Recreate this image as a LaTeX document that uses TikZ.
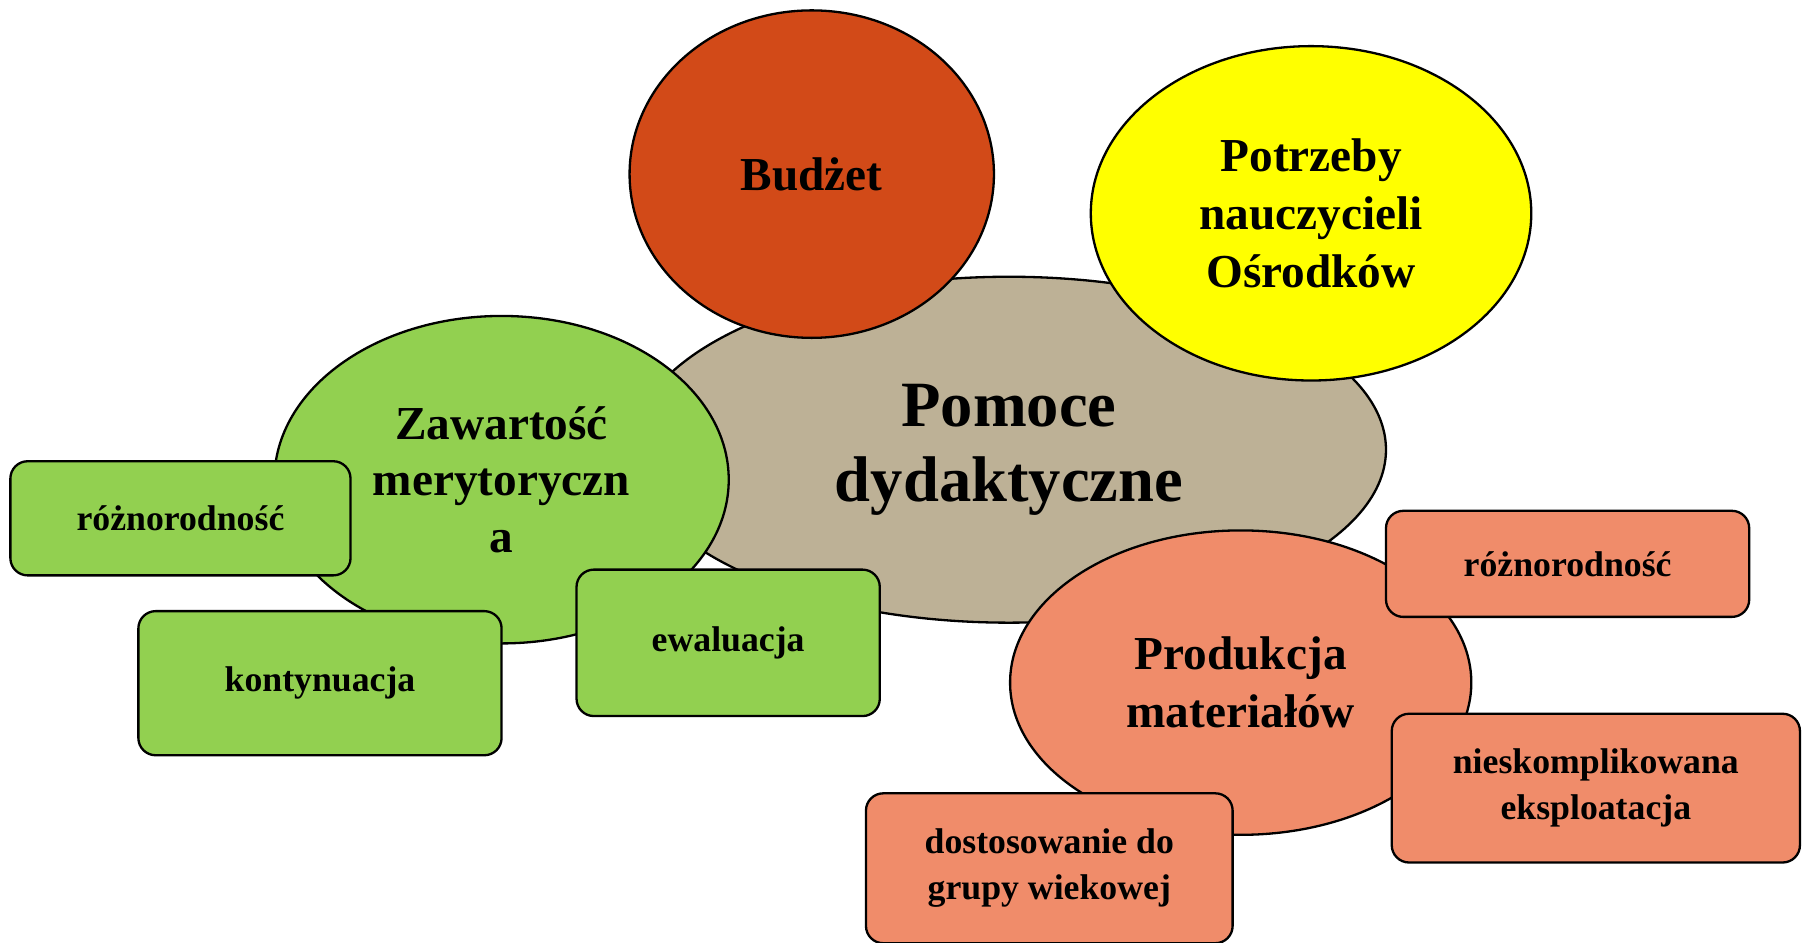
\documentclass[tikz,border=0pt]{standalone}
\usepackage{fontspec}
\setmainfont{Liberation Serif}
\usetikzlibrary{shapes.geometric}
\definecolor{tanc}{HTML}{BDB196}
\definecolor{rustc}{HTML}{D24A18}
\definecolor{yelc}{HTML}{FFFF00}
\definecolor{grnc}{HTML}{92D050}
\definecolor{salc}{HTML}{F08C6A}
\tikzset{
  bubble/.style={ellipse, draw=black, line width=2pt, inner sep=0pt, align=center, font=\bfseries},
  tag/.style={rectangle, rounded corners=15pt, draw=black, line width=2pt, inner sep=0pt, align=center,
    font=\bfseries\fontsize{31}{40}\selectfont},
}
\begin{document}
\begin{tikzpicture}[x=1pt,y=-1pt]
\useasboundingbox (0,0) rectangle (1568,817);
% central
\node[bubble, fill=tanc, minimum width=654pt, minimum height=300pt,
  font=\bfseries\fontsize{56}{65}\selectfont] (pomoce) at (875,390) {Pomoce\\dydaktyczne};
\node[bubble, fill=rustc, minimum width=316pt, minimum height=284pt,
  font=\bfseries\fontsize{41}{50}\selectfont] (budzet) at (704,151) {Budżet};
\node[bubble, fill=yelc, minimum width=382pt, minimum height=290pt,
  font=\bfseries\fontsize{41}{50}\selectfont] (potrzeby) at (1137,185) {Potrzeby\\nauczycieli\\Ośrodków};
\node[bubble, fill=grnc, minimum width=394pt, minimum height=284pt,
  font=\bfseries\fontsize{41}{49}\selectfont] (zaw) at (435,416) {Zawartość\\merytoryczn\\a};
\node[bubble, fill=salc, minimum width=400pt, minimum height=264pt,
  font=\bfseries\fontsize{41}{50}\selectfont] (prod) at (1076,592) {Produkcja\\materiałów};
% green tags
\node[tag, fill=grnc, minimum width=295pt, minimum height=99pt] (roz1) at (156.5,449.5) {różnorodność};
\node[tag, fill=grnc, minimum width=315pt, minimum height=125pt] (kont) at (277.5,592.5) {kontynuacja};
\node[tag, fill=grnc, minimum width=263pt, minimum height=127pt] (ewal) at (631.5,557.5) {ewaluacja};
% salmon tags
\node[tag, fill=salc, minimum width=315pt, minimum height=92pt] (roz2) at (1359.5,489) {różnorodność};
\node[tag, fill=salc, minimum width=354pt, minimum height=129pt] (niesk) at (1384,683.5) {nieskomplikowana\\eksploatacja};
\node[tag, fill=salc, minimum width=318pt, minimum height=130pt] (dost) at (910,753) {dostosowanie do\\grupy wiekowej};
\end{tikzpicture}
\end{document}
